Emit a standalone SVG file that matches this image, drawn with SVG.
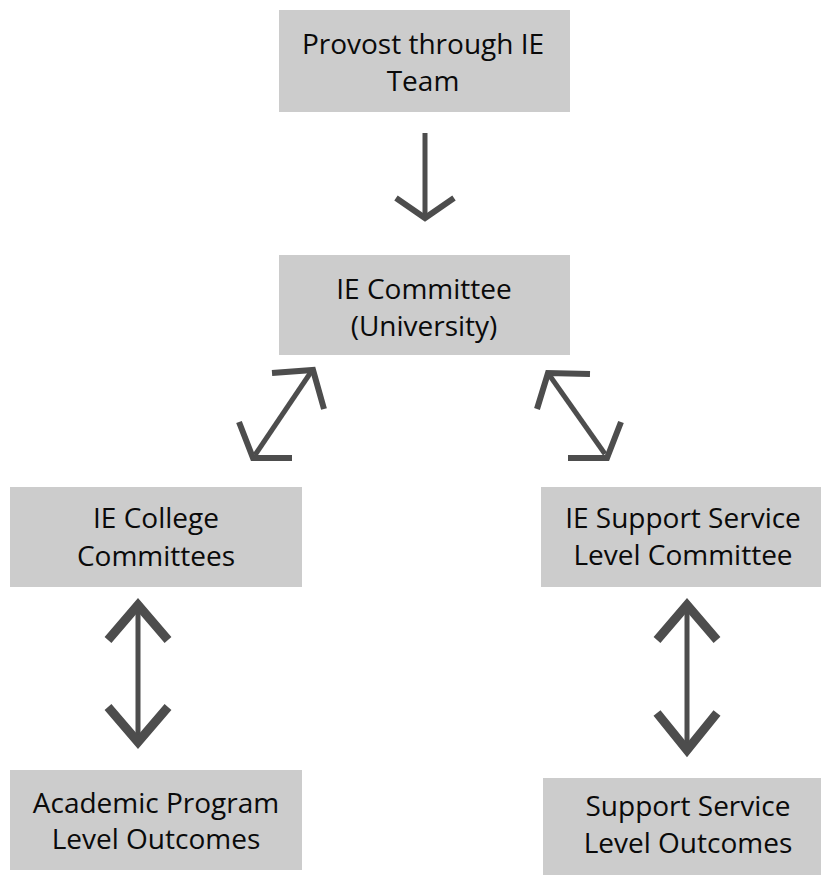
<svg xmlns="http://www.w3.org/2000/svg" width="821" height="875" viewBox="0 0 821 875">
<style>
.box{fill:#cccccc}
.t{font-family:"Open Sans","Liberation Sans",sans-serif;font-size:28px;fill:#0a0a0a;text-anchor:middle}
.ln{stroke:#4d4d4d;fill:none;stroke-width:5}
.hd{stroke:#4d4d4d;fill:none;stroke-width:6;stroke-linejoin:miter;stroke-miterlimit:10}
.hb{stroke:#4d4d4d;fill:none;stroke-width:9;stroke-linejoin:miter;stroke-miterlimit:10}
</style>
<rect width="821" height="875" fill="#fff"/>
<g id="provost"><rect class="box" x="279" y="10" width="291" height="102"/><text class="t" x="423" y="54">Provost through IE</text><text class="t" x="423" y="91">Team</text></g>
<g id="ie-committee"><rect class="box" x="279" y="255" width="291" height="100"/><text class="t" x="424" y="299">IE Committee</text><text class="t" x="424" y="336">(University)</text></g>
<g id="college"><rect class="box" x="10" y="487" width="292" height="100"/><text class="t" x="156" y="528">IE College</text><text class="t" x="156" y="566">Committees</text></g>
<g id="support-committee"><rect class="box" x="541" y="487" width="280" height="100"/><text class="t" x="683" y="528">IE Support Service</text><text class="t" x="683" y="565">Level Committee</text></g>
<g id="academic"><rect class="box" x="10" y="770" width="292" height="100"/><text class="t" x="156" y="813">Academic Program</text><text class="t" x="156" y="849">Level Outcomes</text></g>
<g id="support-outcomes"><rect class="box" x="543" y="778" width="278" height="97"/><text class="t" x="688" y="816">Support Service</text><text class="t" x="688" y="853">Level Outcomes</text></g>
<g id="connectors">
<line class="ln" x1="425" y1="133" x2="425" y2="216"/>
<polyline class="hd" points="396,198 425,218 454,198"/>
<line class="ln" x1="255" y1="455" x2="311" y2="372"/>
<polyline class="hd" points="272,373 313,370 324,409"/>
<polyline class="hd" points="239,422 253,458 292,458"/>
<line class="ln" x1="550" y1="376" x2="605" y2="454"/>
<polyline class="hd" points="590,374 548,373 537,409"/>
<polyline class="hd" points="568,458 607,458 621,422"/>
<line class="ln" x1="138" y1="603" x2="138" y2="743"/>
<polyline class="hb" points="108,640 138,605 168,640"/>
<polyline class="hb" points="108,707 138,742 168,707"/>
<line class="ln" x1="687" y1="603" x2="687" y2="752"/>
<polyline class="hb" points="657,640 687,605 717,640"/>
<polyline class="hb" points="657,713 687,750 717,713"/>
</g>
</svg>
